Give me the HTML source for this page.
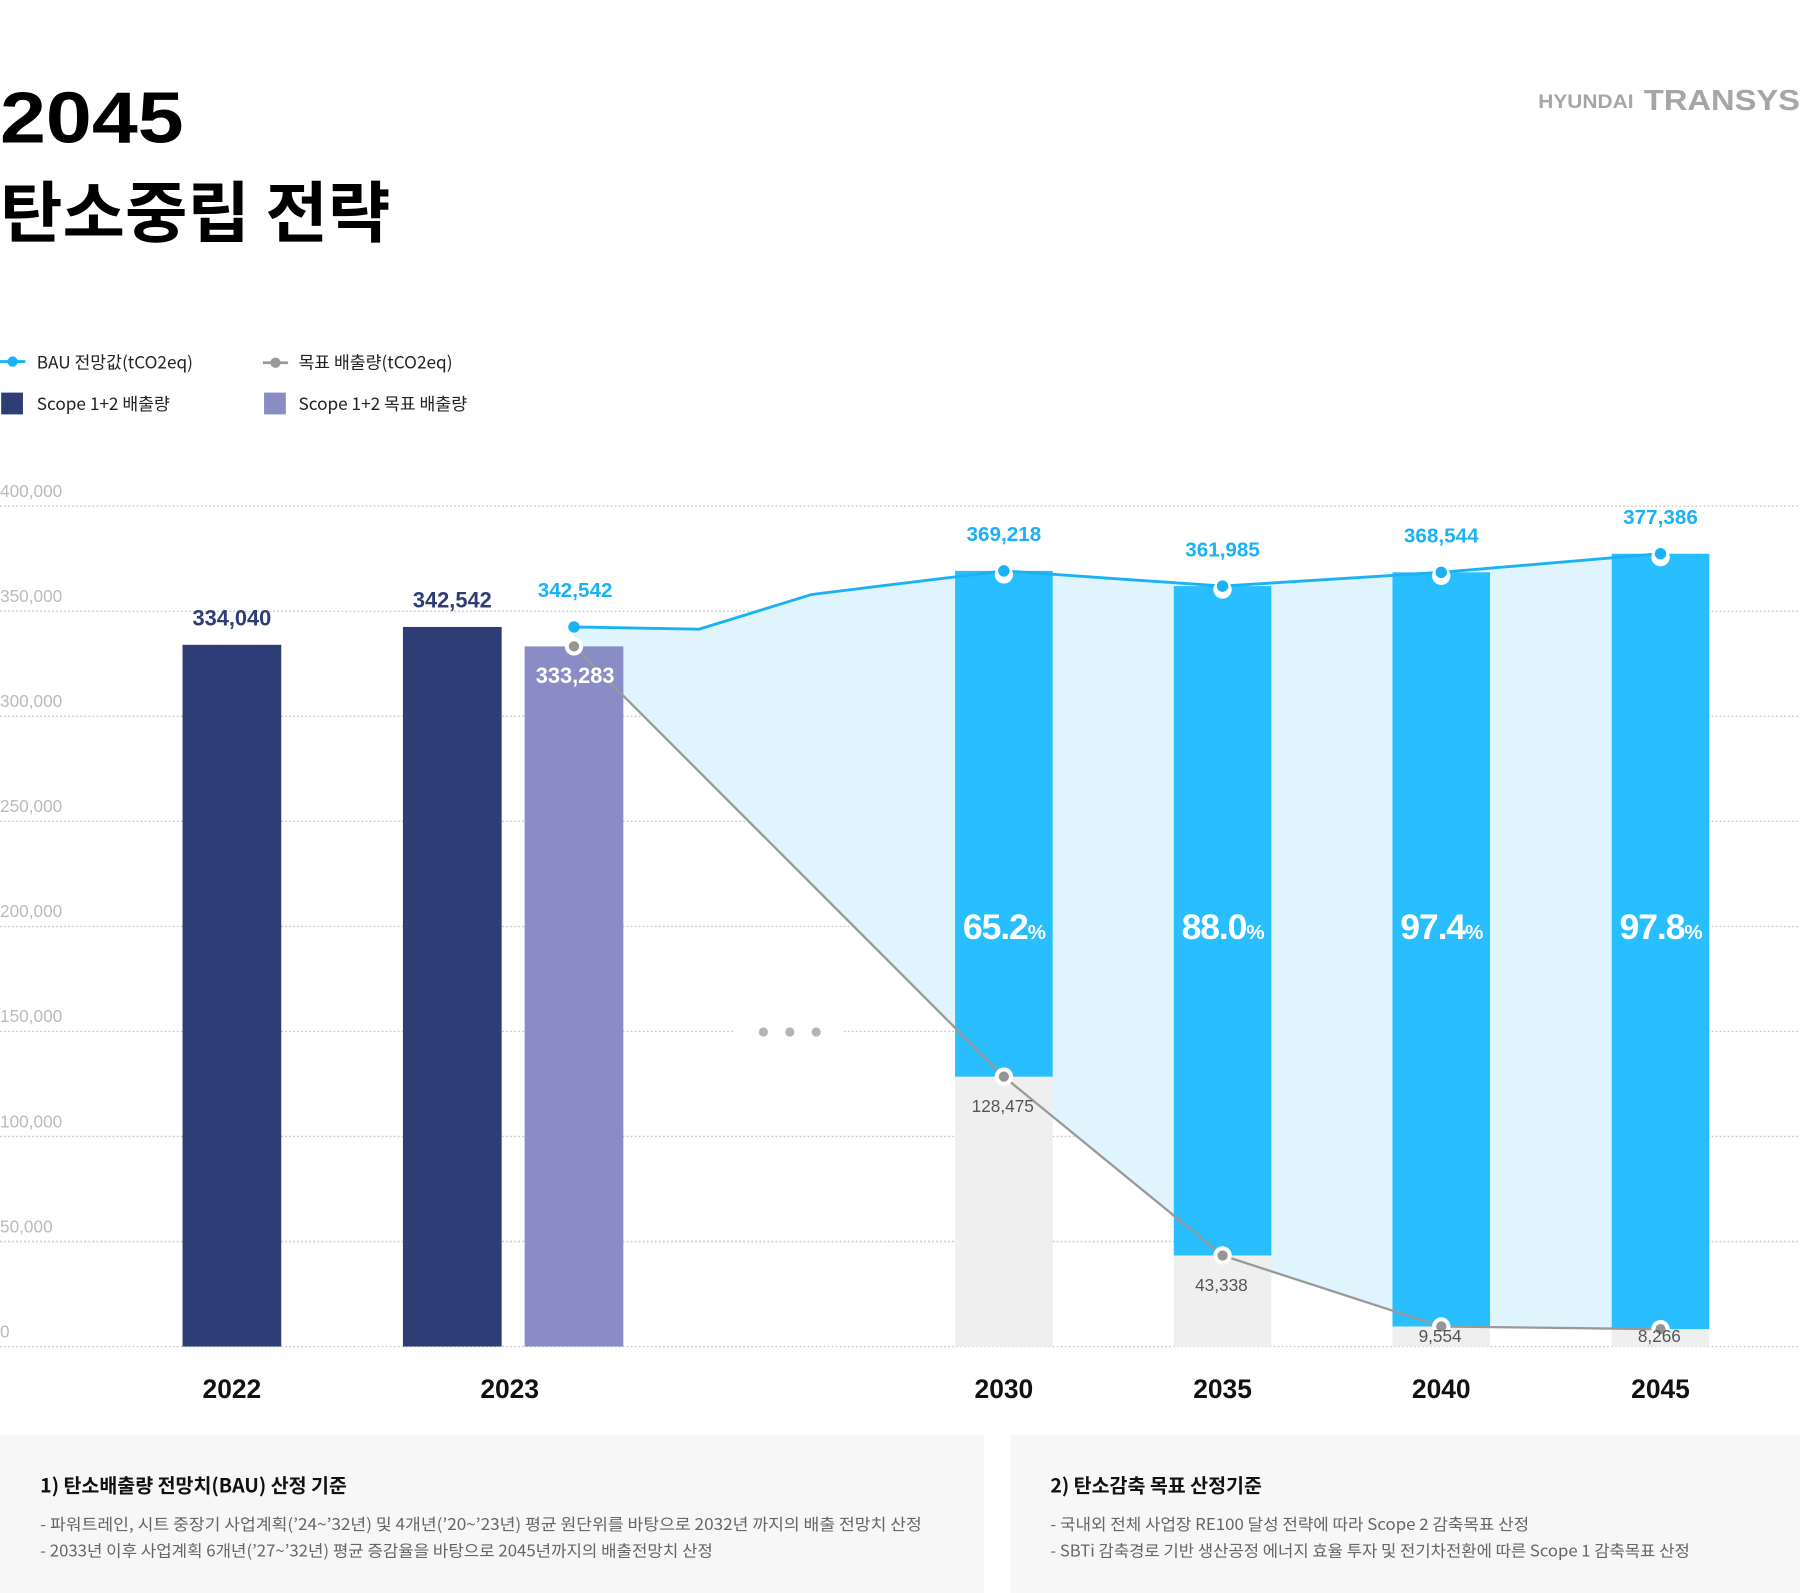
<!DOCTYPE html>
<html><head><meta charset="utf-8">
<style>
html,body{margin:0;padding:0;background:#fff;}
svg{display:block;font-family:"Liberation Sans","Noto Sans CJK KR",sans-serif;}
</style></head>
<body>
<svg id="chart" width="1800" height="1593" viewBox="0 0 1568 1387.7" xmlns="http://www.w3.org/2000/svg">
<text x="0" y="124" font-size="63" font-weight="700" fill="#000" textLength="160" lengthAdjust="spacingAndGlyphs">2045</text>
<text x="0" y="206" font-size="58" font-weight="700" fill="#000" textLength="340" lengthAdjust="spacingAndGlyphs" font-family="'Noto Sans CJK KR',sans-serif">탄소중립 전략</text>
<g fill="#a6a6a6">
<text x="1340" y="94" font-size="17" font-weight="700" textLength="83" lengthAdjust="spacingAndGlyphs">HYUNDAI</text>
<text x="1432" y="96" font-size="25" font-weight="700" textLength="136" lengthAdjust="spacingAndGlyphs">TRANSYS</text>
</g>
<g font-size="15" fill="#222" font-family="'Noto Sans CJK KR',sans-serif">
<g>
<line x1="0" y1="315" x2="22" y2="315" stroke="#1ab2f5" stroke-width="2.5"/><circle cx="11" cy="315" r="4.5" fill="#1ab2f5"/>
<text x="32" y="321">BAU 전망값(tCO2eq)</text></g>
<g>
<line x1="229" y1="316" x2="251" y2="316" stroke="#999" stroke-width="2.5"/><circle cx="240" cy="316" r="4.5" fill="#999"/>
<text x="260" y="321">목표 배출량(tCO2eq)</text></g>
<g>
<rect x="1" y="342" width="19" height="19" fill="#2f3d77"/><text x="32" y="357">Scope 1+2 배출량</text></g>
<g>
<rect x="230" y="342" width="19" height="19" fill="#8a8dc5"/><text x="260" y="357">Scope 1+2 목표 배출량</text></g>
</g>
<g id="grid"></g>
<g id="plot"></g>
<g font-family="'Noto Sans CJK KR',sans-serif">
<rect x="0" y="1250" width="857" height="138" fill="#f7f7f7"/>
<rect x="880" y="1250" width="688" height="138" fill="#f7f7f7"/>
<text x="35" y="1300" font-size="17" font-weight="700" fill="#111">1) 탄소배출량 전망치(BAU) 산정 기준</text>
<text x="35" y="1333" font-size="14" fill="#666" textLength="768" lengthAdjust="spacingAndGlyphs">- 파워트레인, 시트 중장기 사업계획(’24~’32년) 및 4개년(’20~’23년) 평균 원단위를 바탕으로 2032년 까지의 배출 전망치 산정</text>
<text x="35" y="1356" font-size="14" fill="#666" textLength="586" lengthAdjust="spacingAndGlyphs">- 2033년 이후 사업계획 6개년(’27~’32년) 평균 증감율을 바탕으로 2045년까지의 배출전망치 산정</text>
<text x="915" y="1300" font-size="17" font-weight="700" fill="#111">2) 탄소감축 목표 산정기준</text>
<text x="915" y="1333" font-size="14" fill="#666" textLength="417" lengthAdjust="spacingAndGlyphs">- 국내외 전체 사업장 RE100 달성 전략에 따라 Scope 2 감축목표 산정</text>
<text x="915" y="1356" font-size="14" fill="#666" textLength="557" lengthAdjust="spacingAndGlyphs">- SBTi 감축경로 기반 생산공정 에너지 효율 투자 및 전기차전환에 따른 Scope 1 감축목표 산정</text>
</g>
</svg>
<script>
const yTicks = [0, 50000, 100000, 150000, 200000, 250000, 300000, 350000, 400000];
const actualYears = ["2022", "2023"];
const actualValues = [334040, 342542];
const target2023 = 333283;
const futureYears = ["2030", "2035", "2040", "2045"];
const bauValues = [369218, 361985, 368544, 377386];
const targetValues = [128475, 43338, 9554, 8266];
const reductionPct = ["65.2", "88.0", "97.4", "97.8"];
const bauStart = 342542;
const bauIntermediate = [341500, 358000];

const NS = "http://www.w3.org/2000/svg";
const Y0 = 1173, YTOP = 441, VMAX = 400000;
function y(v){ return Y0 - (v / VMAX) * (Y0 - YTOP); }
const actualX = [202, 394];
const targetX = 500;
const futureX = [874.5, 1065, 1255.5, 1446.5];
const midX = [609, 707];
const BW = 86;
function mk(tag, attrs, parent){ const e=document.createElementNS(NS,tag); for(const k in attrs) e.setAttribute(k,attrs[k]); parent.appendChild(e); return e; }
const grid = document.getElementById('grid');
const plot = document.getElementById('plot');

yTicks.forEach(t=>{
  const l = mk('line',{x1:0,x2:1568,y1:y(t),y2:y(t),stroke:'#c8c8c8','stroke-width':1.2,'stroke-dasharray':'1.5 2'},grid);
  
  
  const tx = mk('text',{x:0,y:y(t)-8,'font-size':15,fill:'#bbb'},grid);
  tx.textContent = t.toLocaleString('en-US');
  
  
});

const bauPts = [[targetX,y(bauStart)],[midX[0],y(bauIntermediate[0])],[midX[1],y(bauIntermediate[1])]].concat(futureX.map((x,i)=>[x,y(bauValues[i])]));
const tgtPts = [[targetX,y(target2023)]].concat(futureX.map((x,i)=>[x,y(targetValues[i])]));
const poly = bauPts.concat(tgtPts.slice().reverse()).map(p=>p.join(',')).join(' ');
const area = mk('polygon',{points:poly,fill:'#dff4fd'},plot);



actualValues.forEach((v,i)=>{
  const r = mk('rect',{x:actualX[i]-BW/2,y:y(v),width:BW,height:Y0-y(v),fill:'#2f3d77'},plot);
  
  
  const t = mk('text',{x:actualX[i],y:y(v)-17,'font-size':19,'font-weight':700,fill:'#2f3d77','text-anchor':'middle'},plot);
  t.textContent = v.toLocaleString('en-US');
  
  
});
const tr = mk('rect',{x:targetX-BW/2,y:y(target2023),width:BW,height:Y0-y(target2023),fill:'#8a8dc5'},plot);



futureYears.forEach((yr,i)=>{
  const x = futureX[i];
  const g = mk('rect',{x:x-BW/2+0.5,y:y(targetValues[i]),width:BW-1,height:Y0-y(targetValues[i]),fill:'#efefef'},plot);
  
  
  const b = mk('rect',{x:x-BW/2+0.5,y:y(bauValues[i]),width:BW-1,height:y(targetValues[i])-y(bauValues[i]),fill:'#29bfff'},plot);
  
  
  const p = mk('text',{x:x,y:818,'font-size':31,'font-weight':700,fill:'#fff','text-anchor':'middle','letter-spacing':-1},plot);
  
  
  p.textContent = reductionPct[i];
  const ps = mk('tspan',{'font-size':18},p); ps.textContent='%';
});

const eb = mk('rect',{x:640,y:890,width:95,height:18,fill:'#fff'},plot);


[665,688,711].forEach(cx=>{
  const c = mk('circle',{cx:cx,cy:899,r:4,fill:'#b5b5b5'},plot);
  
  
});

const bl = mk('polyline',{points:bauPts.map(p=>p.join(',')).join(' '),fill:'none',stroke:'#1ab2f5','stroke-width':2.5},plot);


const gl = mk('polyline',{points:tgtPts.map(p=>p.join(',')).join(' '),fill:'none',stroke:'#999','stroke-width':2},plot);



const bauMarkers = [[targetX,bauStart]].concat(futureX.map((x,i)=>[x,bauValues[i]]));
bauMarkers.forEach(([x,v],i)=>{
  if(i>0){ const w = mk('circle',{cx:x,cy:y(v)+3,r:8,fill:'#fff'},plot);
    
     }
  const c = mk('circle',{cx:x,cy:y(v),r:5,fill:'#1ab2f5'},plot);
  
  
});
const tgtMarkers = [[targetX,target2023]].concat(futureX.map((x,i)=>[x,targetValues[i]]));
tgtMarkers.forEach(([x,v])=>{
  const w = mk('circle',{cx:x,cy:y(v),r:8,fill:'#fff'},plot);
  
  
  const c = mk('circle',{cx:x,cy:y(v),r:4.5,fill:'#959595'},plot);
  
  
});

const tl = mk('text',{x:targetX+1,y:y(target2023)+32,'font-size':19,'font-weight':700,fill:'#fff','text-anchor':'middle'},plot);
tl.textContent = target2023.toLocaleString('en-US');


const bs = mk('text',{x:targetX+1,y:y(bauStart)-26,'font-size':18,'font-weight':700,fill:'#1ab2f5','text-anchor':'middle'},plot);
bs.textContent = bauStart.toLocaleString('en-US');


futureX.forEach((x,i)=>{
  const t = mk('text',{x:x,y:y(bauValues[i])-26,'font-size':18,'font-weight':700,fill:'#1ab2f5','text-anchor':'middle'},plot);
  t.textContent = bauValues[i].toLocaleString('en-US');
  
  
  const u = mk('text',{x:x-1,y:Math.min(y(targetValues[i])+31,1169),'font-size':15,fill:'#555','text-anchor':'middle'},plot);
  u.textContent = targetValues[i].toLocaleString('en-US');
  
  
});

const xLabelX = [202, 444].concat(futureX);
actualYears.concat(futureYears).forEach((yr,i)=>{
  const t = mk('text',{x:xLabelX[i],y:1218,'font-size':23,'font-weight':700,fill:'#111','text-anchor':'middle'},plot);
  t.textContent = yr;
  
  
});
</script>
</body></html>
